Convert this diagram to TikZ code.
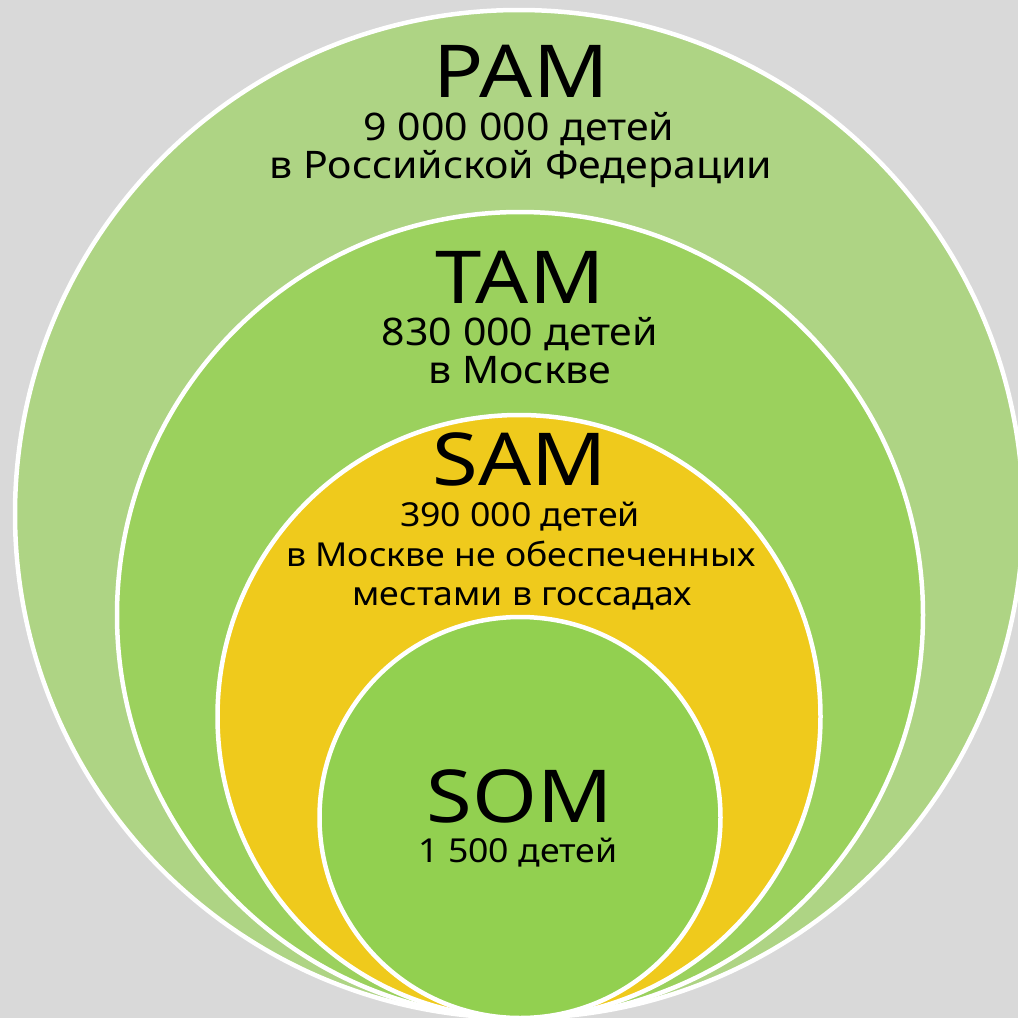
\documentclass[tikz,border=0pt]{standalone}
\usepackage{fontspec}
\setmainfont{Noto Sans}
\newfontfamily\titf[FakeStretch=1.14]{Noto Sans}
\newfontfamily\subf[FakeStretch=1.08]{Noto Sans}
\definecolor{bg}{HTML}{D9D9D9}
\definecolor{pamc}{HTML}{AED484}
\definecolor{tamc}{HTML}{9BD15D}
\definecolor{samc}{HTML}{EFCA1C}
\definecolor{somc}{HTML}{92D050}
\begin{document}
\begin{tikzpicture}[x=1pt,y=-1pt,
  ring/.style={circle, draw=white, line width=4.5pt, inner sep=0pt, outer sep=0pt},
  title/.style={anchor=base, inner sep=0pt, font=\titf\fontsize{73}{73}\selectfont, text=black},
  sub/.style={anchor=base, inner sep=0pt, font=\subf\fontsize{38}{38}\selectfont, text=black},
  subs/.style={anchor=base, inner sep=0pt, font=\subf\fontsize{33}{33}\selectfont, text=black}]
\useasboundingbox (0,0) rectangle (1018,1018);
\clip (0,0) rectangle (1018,1018);
\fill[bg] (0,0) rectangle (1018,1018);
\node[ring, fill=pamc, minimum size=1008pt] (pam) at (519,514) {};
\node[ring, fill=tamc, minimum size=806pt] (tam) at (520,615) {};
\node[ring, fill=samc, minimum size=603pt] (sam) at (519,716.5) {};
\node[ring, fill=somc, minimum size=401pt] (som) at (520,817.5) {};
\node[title] (t1) at (521,97) {PAM};
\node[sub] (p1) at (519,140) {9 000 000 детей};
\node[sub] (p2) at (521,178) {в Российской Федерации};
\node[title] (t2) at (520,303) {TAM};
\node[sub] (q1) at (520,345) {830 000 детей};
\node[sub] (q2) at (520,383) {в Москве};
\node[title] (t3) at (520,485) {SAM};
\node[subs] (r1) at (520,526) {390 000 детей};
\node[subs] (r2) at (521,566) {в Москве не обеспеченных};
\node[subs] (r3) at (522,605) {местами в госсадах};
\node[title] (t4) at (520,822) {SOM};
\node[subs] (s1) at (518,862) {1 500 детей};
\end{tikzpicture}
\end{document}
